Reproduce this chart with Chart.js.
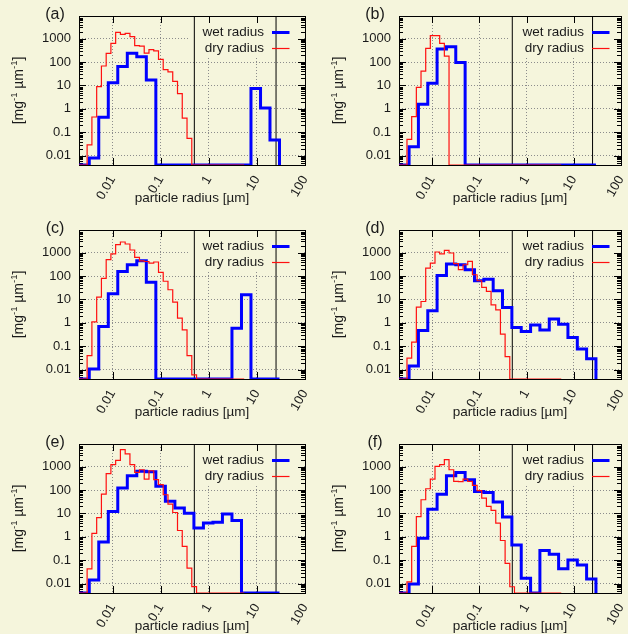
<!DOCTYPE html>
<html>
<head>
<meta charset="utf-8">
<script src="https://cdn.jsdelivr.net/npm/chart.js@4.4.1/dist/chart.umd.min.js"></script>
<style>
  html, body { margin: 0; padding: 0; background: #f5f5dc; }
  #fig { position: relative; width: 628px; height: 634px; overflow: hidden; background: #f5f5dc; }
  #fig canvas { position: absolute; }
</style>
</head>
<body>
<div id="fig">
  <canvas id="pa" width="314" height="206" style="left:0;top:0"></canvas>
  <canvas id="pb" width="314" height="206" style="left:314px;top:0"></canvas>
  <canvas id="pc" width="314" height="206" style="left:0;top:214px"></canvas>
  <canvas id="pd" width="314" height="206" style="left:314px;top:214px"></canvas>
  <canvas id="pe" width="314" height="206" style="left:0;top:428px"></canvas>
  <canvas id="pf" width="314" height="206" style="left:314px;top:428px"></canvas>
</div>
<script>
// bin edges in µm (first edge = left end of the axis)
const wetEdges = [0.002, 0.00327, 0.00515, 0.00813, 0.0128, 0.0202, 0.0318, 0.0502, 0.0792, 0.125,
  0.197, 0.310, 0.490, 0.773, 1.22, 1.92, 3.03, 4.78, 7.53, 11.9, 18.7, 29.5];
const dryEdges = [0.002, 0.00295, 0.00371, 0.00466, 0.00585, 0.00735, 0.00921, 0.01156, 0.01452, 0.01824,
  0.02291, 0.02877, 0.03614, 0.04539, 0.05702, 0.07161, 0.08995, 0.1127, 0.1416, 0.1778, 0.2234,
  0.2805, 0.3524, 0.4426, 0.5559, 0.6982, 0.8770, 1.102, 1.384, 1.738, 2.183, 2.742, 3.443, 4.325, 5.433];

// wet radius bins [mg-1 um-1], 0 = empty bin
const wetA = [0, 0.008, 0.44, 13, 64, 240, 170, 17, 0, 0, 0, 0, 0, 0, 0, 0, 0, 0, 7.5, 1.1, 0.047];
const wetB = [0, 0.024, 1.56, 12.4, 360, 455, 97, 0, 0, 0, 0, 0, 0, 0, 0, 0, 0, 0, 0, 0, 0];
const wetC = [0, 0.0107, 0.7, 17.5, 158, 306, 455, 55, 0, 0, 0, 0, 0, 0, 0, 0, 0.59, 16, 0, 0, 0];
const wetD = [0, 0.0144, 0.47, 3.3, 106, 327, 306, 187, 63, 74, 23.5, 4.5, 0.63, 0.43, 0.82, 0.5, 1.48, 0.88, 0.235, 0.077, 0.029];
const wetE = [0, 0.0145, 0.61, 12.2, 122, 411, 630, 610, 144, 33, 17, 10.3, 2.4, 3.9, 4.2, 9.4, 5, 0, 0, 0, 0];
const wetF = [0, 0.0097, 0.88, 15.3, 67, 411, 570, 277, 87, 79, 31, 7, 0.45, 0.017, 0, 0.26, 0.18, 0.043, 0.103, 0.063, 0.016];

// dry radius bins
const dryA = [0, 0.029, 0.45, 9, 68, 236, 630, 1860, 1530, 1690, 1220, 500, 480, 240, 340, 300, 130, 48, 38, 15, 4.5, 0.4, 0.055,
  0, 0, 0, 0, 0, 0, 0, 0, 0, 0, 0];
const dryB = [0, 0.05, 0.47, 8.3, 41, 385, 1340, 1340, 630, 180,
  0, 0, 0, 0, 0, 0, 0, 0, 0, 0, 0, 0, 0, 0, 0, 0, 0, 0, 0, 0, 0, 0, 0, 0];
const dryC = [0, 0.04, 1.1, 12.6, 80, 500, 880, 2200, 2850, 2350, 1300, 630, 450, 420, 360, 400, 145, 60, 26, 7.7, 1.6, 0.5, 0.04, 0.006,
  0, 0, 0, 0, 0, 0, 0, 0, 0, 0];
const dryD = [0, 0.031, 0.15, 4.7, 8.2, 220, 360, 1070, 880, 1260, 970, 340, 187, 305, 425, 114, 63, 33, 22, 5.9, 3.6, 0.33, 0.036,
  0, 0, 0, 0, 0, 0, 0, 0, 0, 0, 0];
const dryE = [0, 0.043, 1.4, 6.7, 67, 500, 1220, 1870, 5300, 3500, 1220, 570, 740, 296, 670, 277, 170, 63, 25, 11, 1.87, 0.39, 0.046, 0.0075,
  0, 0, 0, 0, 0, 0, 0, 0, 0, 0];
const dryF = [0, 0.012, 0.39, 7.4, 38.5, 114, 296, 1030, 1220, 2000, 740, 235, 230, 296, 235, 158, 94, 45, 20, 13.5, 3.9, 0.7, 0.074, 0.0074,
  0, 0, 0, 0, 0, 0, 0, 0, 0, 0];

const xTicks = [0.01, 0.1, 1, 10, 100];
const yTicks = [0.01, 0.1, 1, 10, 100, 1000];
const markerLines = [0.5, 25];   // solid vertical lines

const X_MIN = 0.002, X_MAX = 100;
const Y_MIN = 0.004, Y_MAX = 9300;

const BG = '#f5f5dc';
const TXT = '#1a1a1a';
const GRID = '#8c8c8c';
const BLUE = '#0000ff';
const RED = '#ff1010';
const FONT = "'Liberation Sans', Arial, sans-serif";

const panels = [
  { id: 'pa', tag: '(a)', col: 0, wet: wetA, dry: dryA },
  { id: 'pb', tag: '(b)', col: 1, wet: wetB, dry: dryB },
  { id: 'pc', tag: '(c)', col: 0, wet: wetC, dry: dryC },
  { id: 'pd', tag: '(d)', col: 1, wet: wetD, dry: dryD },
  { id: 'pe', tag: '(e)', col: 0, wet: wetE, dry: dryE },
  { id: 'pf', tag: '(f)', col: 1, wet: wetF, dry: dryF }
];

// histogram -> step points (empty bins sit on the bottom border)
function steps(edges, vals) {
  const pts = vals.map((v, i) => ({ x: edges[i], y: v > 0 ? v : Y_MIN }));
  pts.push({ x: edges[vals.length], y: Y_MIN });
  return pts;
}

function drawYTitle(ctx, cx, cy) {
  const parts = [['[mg', 14, 0], ['-1', 9.5, -5], [' \u00b5m', 14, 0], ['-1', 9.5, -5], [']', 14, 0]];
  ctx.save();
  ctx.translate(cx, cy);
  ctx.rotate(-Math.PI / 2);
  let total = 0;
  parts.forEach(([t, s]) => { ctx.font = s + 'px ' + FONT; total += ctx.measureText(t).width; });
  let x = -total / 2;
  ctx.textAlign = 'left';
  ctx.textBaseline = 'middle';
  ctx.fillStyle = TXT;
  parts.forEach(([t, s, dy]) => {
    ctx.font = s + 'px ' + FONT;
    ctx.fillText(t, x, dy);
    x += ctx.measureText(t).width;
  });
  ctx.restore();
}

// gnuplot-like frame, inward ticks, opaque key
const gnuFrame = {
  id: 'gnuFrame',
  beforeDatasetsDraw(chart) {
    const { ctx, chartArea: a, scales: { x, y } } = chart;
    ctx.save();
    ctx.fillStyle = BG;
    ctx.fillRect(a.left + 110, a.top + 1, a.right - a.left - 111, 41);

    ctx.strokeStyle = '#000';
    ctx.lineWidth = 1;
    ctx.beginPath();
    xTicks.forEach(v => {
      const px = Math.round(x.getPixelForValue(v)) + 0.5;
      if (px < a.left || px > a.right) return;
      ctx.moveTo(px, a.bottom); ctx.lineTo(px, a.bottom - 7);
      ctx.moveTo(px, a.top); ctx.lineTo(px, a.top + 7);
    });
    for (let d = -3; d <= 3; d++) {
      for (let m = 1; m <= 9; m++) {
        const v = m * Math.pow(10, d);
        if (v < Y_MIN || v > Y_MAX) continue;
        const len = m === 1 ? 7 : 4;
        const py = Math.round(y.getPixelForValue(v)) + 0.5;
        ctx.moveTo(a.left, py); ctx.lineTo(a.left + len, py);
        ctx.moveTo(a.right, py); ctx.lineTo(a.right - len, py);
      }
    }
    ctx.stroke();
    ctx.strokeRect(Math.round(a.left) + 0.5, Math.round(a.top) + 0.5,
      Math.round(a.right - a.left), Math.round(a.bottom - a.top));
    ctx.restore();
  },
  afterDatasetsDraw(chart, args, opts) {
    const { ctx, chartArea: a } = chart;
    ctx.save();
    ctx.font = '13.5px ' + FONT;
    ctx.fillStyle = TXT;
    ctx.textAlign = 'right';
    ctx.textBaseline = 'middle';
    const keys = [['wet radius', BLUE, 3, 16.5], ['dry radius', RED, 1.2, 32.5]];
    keys.forEach(([t, c, w, dy]) => {
      ctx.fillText(t, a.left + 185, a.top + dy);
      ctx.strokeStyle = c;
      ctx.lineWidth = w;
      ctx.beginPath();
      ctx.moveTo(a.left + 193, a.top + dy);
      ctx.lineTo(a.left + 210.5, a.top + dy);
      ctx.stroke();
    });
    ctx.font = '16px ' + FONT;
    ctx.textAlign = 'center';
    ctx.fillText(opts.tag, a.left - 24, a.top - 1);
    ctx.restore();
    drawYTitle(ctx, a.left - 60, (a.top + a.bottom) / 2);
  }
};

function buildChart(p) {
  const yW = p.col === 0 ? 79 : 85;
  const padR = p.col === 0 ? 9 : 7;
  const datasets = [
    { label: 'dry radius', data: steps(dryEdges, p.dry), stepped: true, borderColor: RED, borderWidth: 1.2, pointRadius: 0 },
    { label: 'wet radius', data: steps(wetEdges, p.wet), stepped: true, borderColor: BLUE, borderWidth: 3, pointRadius: 0 }
  ];
  markerLines.forEach(m => {
    datasets.push({ data: [{ x: m, y: Y_MIN }, { x: m, y: Y_MAX }], borderColor: '#000', borderWidth: 1, pointRadius: 0 });
  });

  return new Chart(document.getElementById(p.id), {
    type: 'line',
    data: { datasets },
    options: {
      responsive: false,
      animation: false,
      events: [],
      layout: { padding: { left: 0, top: 16, right: padR, bottom: 0 } },
      plugins: {
        legend: { display: false },
        tooltip: { enabled: false },
        gnuFrame: { tag: p.tag }
      },
      scales: {
        x: {
          type: 'logarithmic', min: X_MIN, max: X_MAX,
          afterBuildTicks: s => { s.ticks = xTicks.map(v => ({ value: v })); },
          afterFit: s => { s.height = 41; s.paddingLeft = 0; s.paddingRight = 0; },
          grid: { color: GRID, drawTicks: false },
          border: { display: false, dash: [1, 2] },
          ticks: {
            autoSkip: false, minRotation: 60, maxRotation: 60, padding: 8,
            color: TXT, font: { size: 13, family: FONT },
            callback: v => String(v)
          },
          title: {
            display: true, text: 'particle radius [\u00b5m]', color: TXT,
            font: { size: 13.5, family: FONT }, padding: { top: 0, bottom: 0 }
          }
        },
        y: {
          type: 'logarithmic', min: Y_MIN, max: Y_MAX,
          afterBuildTicks: s => { s.ticks = yTicks.map(v => ({ value: v })); },
          afterFit: s => { s.width = yW; s.paddingTop = 0; s.paddingBottom = 0; },
          grid: { color: GRID, drawTicks: false },
          border: { display: false, dash: [1, 2] },
          ticks: {
            padding: 8, color: TXT, font: { size: 13, family: FONT },
            callback: v => String(v)
          }
        }
      }
    },
    plugins: [gnuFrame]
  });
}

panels.forEach(buildChart);
</script>
</body>
</html>
